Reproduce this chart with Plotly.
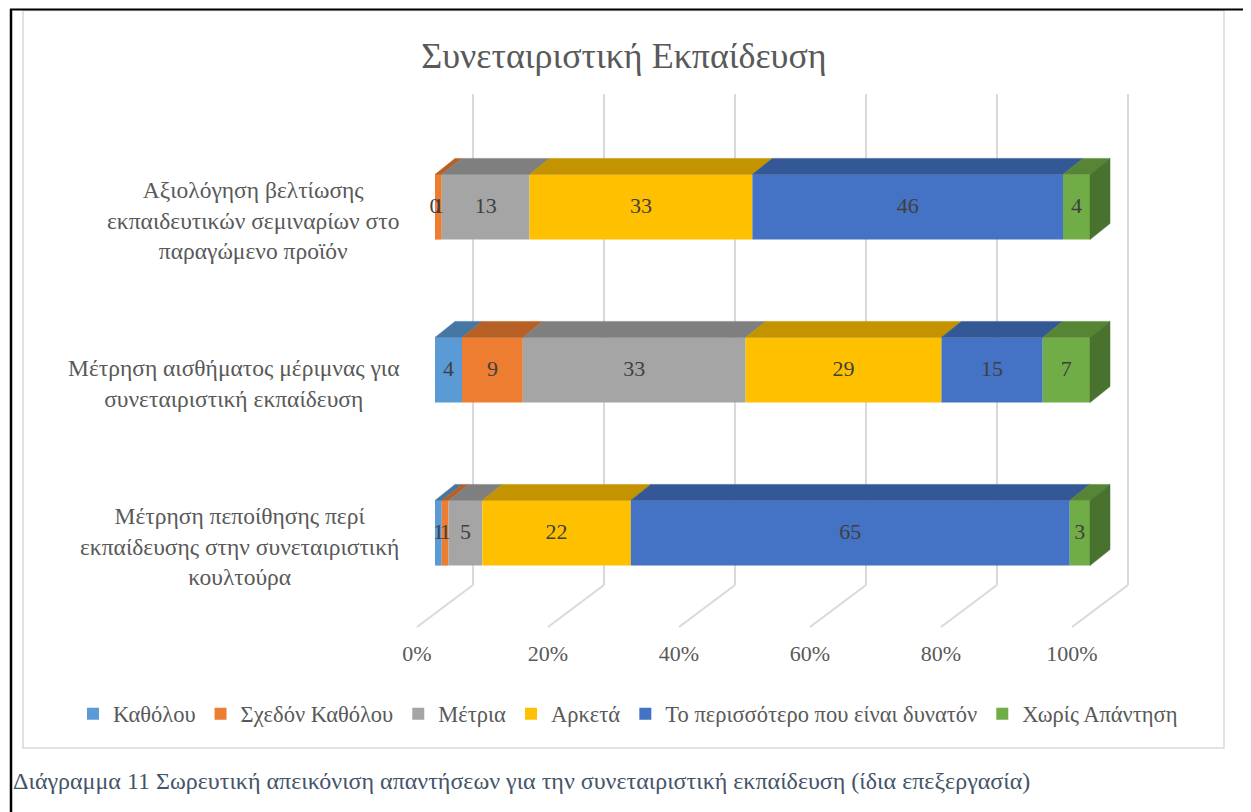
import plotly.graph_objects as go

# rows from bottom to top
categories = [
    "Μέτρηση πεποίθησης περί<br>εκπαίδευσης στην συνεταιριστική<br>κουλτούρα",
    "Μέτρηση αισθήματος μέριμνας για<br>συνεταιριστική εκπαίδευση",
    "Αξιολόγηση βελτίωσης<br>εκπαιδευτικών σεμιναρίων στο<br>παραγώμενο προϊόν",
]
series_names = ["Καθόλου", "Σχεδόν Καθόλου", "Μέτρια", "Αρκετά",
                "Το περισσότερο που είναι δυνατόν", "Χωρίς Απάντηση"]
katholou = [1, 4, 0]
schedon_katholou = [1, 9, 1]
metria = [5, 33, 13]
arketa = [22, 29, 33]
perissotero = [65, 15, 46]
xoris_apantisi = [3, 7, 4]
x_ticks = [0, 20, 40, 60, 80, 100]
x_tick_labels = ["0%", "20%", "40%", "60%", "80%", "100%"]

colors = ["#5B9BD5", "#ED7D31", "#A5A5A5", "#FFC000", "#4472C4", "#70AD47"]
series = [katholou, schedon_katholou, metria, arketa, perissotero, xoris_apantisi]

FONT = "Liberation Serif"
OFF = 8  # page body margin
W, H = 1251 - OFF, 812 - OFF
ML, MR, MT, MB = 12, 5, 90 - OFF, 174
PX_X = 6.55          # pixels per percent
PX_Y = 163.0         # pixels per category step
X0_PX = 435 - OFF    # pixel of 0% on bar front plane
ROW0_PX = 533 - OFF  # pixel of bottom row centre

x_range = [(ML - X0_PX) / PX_X, (W - MR - X0_PX) / PX_X]
y_range = [(ROW0_PX - (H - MB)) / PX_Y, (ROW0_PX - MT) / PX_Y]

BAR_W = 0.4
BAR_DX, BAR_DY = 20 / PX_X, 16 / PX_Y           # bar depth
FLOOR_DX, FLOOR_Y = -18 / PX_X, -94 / PX_Y
WALL_DX, WALL_Y0, WALL_Y1 = 38 / PX_X, -52 / PX_Y, 439 / PX_Y
LABEL_DY = -13 / PX_Y   # category labels sit on the front edge of the floor


def shade(hex_color, k):
    h = hex_color.lstrip("#")
    r, g, b = (int(h[i:i + 2], 16) for i in (0, 2, 4))
    return "rgb(%d,%d,%d)" % (r * k, g * k, b * k)


def pxx(px):
    return (px - OFF - ML) / (W - ML - MR)


def pxy(py):
    return (H - MB - (py - OFF)) / (H - MT - MB)


rows = list(range(len(categories)))
totals = [sum(s[j] for s in series) for j in rows]
pct = [[s[j] / totals[j] * 100 for j in rows] for s in series]
cum = []
run = [0.0] * len(rows)
for p in pct:
    cum.append(run[:])
    run = [run[j] + p[j] for j in rows]

fig = go.Figure()

# front faces
for i, name in enumerate(series_names):
    fig.add_trace(go.Bar(
        y=rows, x=pct[i], base=cum[i], orientation="h", width=BAR_W,
        name=name, marker=dict(color=colors[i], line=dict(width=0)),
        hoverinfo="skip",
    ))

# top faces
for i in range(len(series)):
    xs, ys = [], []
    for j in rows:
        if pct[i][j] <= 0:
            continue
        a, b = cum[i][j], cum[i][j] + pct[i][j]
        yt = j + BAR_W / 2
        xs += [a, b, b + BAR_DX, a + BAR_DX, a, None]
        ys += [yt, yt, yt + BAR_DY, yt + BAR_DY, yt, None]
    fig.add_trace(go.Scatter(
        x=xs, y=ys, mode="lines", fill="toself", fillcolor=shade(colors[i], 0.77),
        line=dict(color=shade(colors[i], 0.77), width=0.5),
        showlegend=False, hoverinfo="skip",
    ))

# right side face of last segment
xs, ys = [], []
for j in rows:
    e = cum[-1][j] + pct[-1][j]
    yb, yt = j - BAR_W / 2, j + BAR_W / 2
    xs += [e, e, e + BAR_DX, e + BAR_DX, e, None]
    ys += [yb, yt, yt + BAR_DY, yb + BAR_DY, yb, None]
fig.add_trace(go.Scatter(
    x=xs, y=ys, mode="lines", fill="toself", fillcolor=shade(colors[-1], 0.66),
    line=dict(color=shade(colors[-1], 0.66), width=0.5),
    showlegend=False, hoverinfo="skip",
))

# data labels
lx, ly, lt = [], [], []
for i, s in enumerate(series):
    for j in rows:
        lx.append(cum[i][j] + pct[i][j] / 2)
        ly.append(j)
        lt.append(str(s[j]))
fig.add_trace(go.Scatter(
    x=lx, y=ly, text=lt, mode="text", textposition="middle center",
    textfont=dict(family=FONT, size=22, color="#404040"),
    showlegend=False, hoverinfo="skip",
))

# 3D gridlines: back wall + floor
shapes = []
for v in x_ticks:
    shapes.append(dict(type="line", xref="x", yref="y", layer="below",
                       x0=v + WALL_DX, x1=v + WALL_DX, y0=WALL_Y0, y1=WALL_Y1,
                       line=dict(color="#D9D9D9", width=2)))
    shapes.append(dict(type="line", xref="x", yref="y", layer="below",
                       x0=v + FLOOR_DX, x1=v + WALL_DX, y0=FLOOR_Y, y1=WALL_Y0,
                       line=dict(color="#D9D9D9", width=2)))

# chart border and page frame
shapes.append(dict(type="rect", xref="paper", yref="paper", layer="below",
                   x0=pxx(23), x1=pxx(1224), y0=pxy(748), y1=pxy(10.5),
                   line=dict(color="#D9D9D9", width=1.5)))
shapes.append(dict(type="line", xref="paper", yref="paper",
                   x0=pxx(10), x1=pxx(1260), y0=pxy(9.5), y1=pxy(9.5),
                   line=dict(color="black", width=2)))
shapes.append(dict(type="line", xref="paper", yref="paper",
                   x0=pxx(11), x1=pxx(11), y0=pxy(9), y1=pxy(820),
                   line=dict(color="black", width=2.5)))

annotations = []
for j, cat in enumerate(categories):
    annotations.append(dict(
        text=cat, xref="paper", yref="y", x=pxx(401), y=j + LABEL_DY,
        xanchor="right", yanchor="middle", align="center", showarrow=False,
        font=dict(family=FONT, size=23.5, color="#595959"),
    ))
annotations.append(dict(
    text="Διάγραμμα 11 Σωρευτική απεικόνιση απαντήσεων για την συνεταιριστική εκπαίδευση (ίδια επεξεργασία)",
    xref="paper", yref="paper", x=pxx(11), y=pxy(781),
    xanchor="left", yanchor="middle", showarrow=False,
    font=dict(family=FONT, size=24, color="#44546A"),
))

fig.update_layout(
    width=W, height=H,
    margin=dict(l=ML, r=MR, t=MT, b=MB),
    paper_bgcolor="white", plot_bgcolor="rgba(0,0,0,0)",
    barmode="overlay",
    title=dict(text="Συνεταιριστική Εκπαίδευση", xref="paper", x=pxx(624),
               xanchor="center", yref="container", y=1 - (55 - OFF) / H,
               yanchor="middle",
               font=dict(family=FONT, size=36, color="#595959")),
    xaxis=dict(range=x_range, tickvals=[v + FLOOR_DX for v in x_ticks],
               ticktext=x_tick_labels, showgrid=False, zeroline=False,
               showline=False, ticks="",
               tickfont=dict(family=FONT, size=22, color="#595959")),
    yaxis=dict(range=y_range, showticklabels=False, showgrid=False,
               zeroline=False, showline=False),
    legend=dict(orientation="h", xref="paper", yref="paper",
                x=pxx(628), xanchor="center", y=pxy(714), yanchor="middle",
                font=dict(family=FONT, size=22.5, color="#595959")),
    shapes=shapes,
    annotations=annotations,
)

fig.write_html("out.html")
